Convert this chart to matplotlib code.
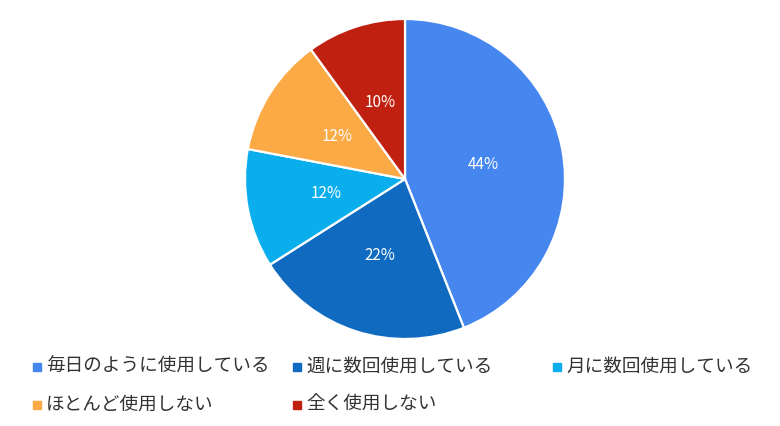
import matplotlib.pyplot as plt
from matplotlib.patches import Rectangle

plt.rcParams['font.family'] = ['Noto Sans CJK JP', 'DejaVu Sans']

labels = ['毎日のように使用している', '週に数回使用している', '月に数回使用している',
          'ほとんど使用しない', '全く使用しない']
values = [44, 22, 12, 12, 10]
colors = ['#4587ee', '#0f6ac0', '#0aaeed', '#fbaa45', '#c0200f']

W, H = 780, 426
fig = plt.figure(figsize=(W / 100, H / 100), dpi=100)

# pie centre ~ (405, 179) px, radius ~160 px
cx, cy, r = 405, 179, 160
ax = fig.add_axes([(cx - r) / W, (H - cy - r) / H, 2 * r / W, 2 * r / H])
wedges, texts, autotexts = ax.pie(
    values, colors=colors, startangle=90, counterclock=False,
    autopct='%d%%', pctdistance=0.5,
    wedgeprops=dict(edgecolor='white', linewidth=1.6),
    textprops=dict(color='white', fontsize=11))
ax.set_xlim(-1, 1)
ax.set_ylim(-1, 1)
ax.set_aspect('equal')
ax.axis('off')

# legend laid out by hand: 3 columns, 2 rows
col_x = [33, 293, 553]
row_y = [367, 405]
for i, (lab, c) in enumerate(zip(labels, colors)):
    x = col_x[i % 3]
    y = row_y[i // 3]
    fig.patches.append(Rectangle((x / W, (H - y - 4) / H), 8 / W, 8 / H,
                                 transform=fig.transFigure, color=c))
    fig.text((x + 13) / W, (H - y) / H, lab, fontsize=13.4, color='#333333',
             va='center', ha='left')

fig.savefig('out.png', dpi=100, facecolor='white')
